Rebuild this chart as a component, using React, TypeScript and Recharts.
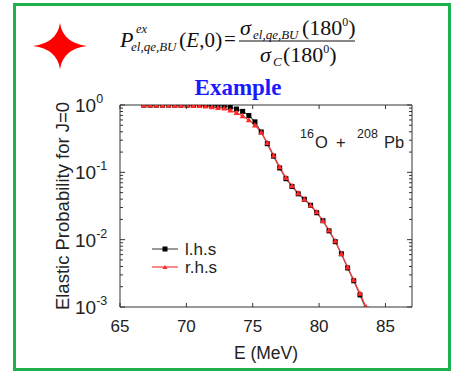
import React from "react";
import {
  LineChart,
  Line,
  XAxis,
  YAxis,
  Legend,
  ReferenceLine,
} from "recharts";

// energies (MeV)
const E_MEV = [
  66.8, 67.27, 67.73, 68.2, 68.66, 69.13, 69.59, 70.06, 70.52, 70.99, 71.45,
  71.92, 72.38, 72.85, 73.31, 73.78, 74.24, 74.71, 75.17, 75.64, 76.1, 76.57,
  77.03, 77.5, 77.96, 78.43, 78.89, 79.36, 79.82, 80.29, 80.75, 81.22, 81.68,
  82.15, 82.61, 83.08, 83.54,
];

// l.h.s (black squares)
const LHS = [
  0.995, 0.995, 0.995, 0.995, 0.995, 0.994, 0.994, 0.993, 0.993, 0.992, 0.99,
  0.988, 0.985, 0.966, 0.933, 0.871, 0.805, 0.698, 0.562, 0.398, 0.266, 0.174,
  0.116, 0.0804, 0.0617, 0.0479, 0.0398, 0.0324, 0.0251, 0.0191, 0.0135,
  0.00933, 0.00617, 0.0038, 0.00245, 0.00151, 0.00093,
];

// r.h.s (red triangles)
const RHS = [
  0.99, 0.99, 0.99, 0.99, 0.987, 0.985, 0.982, 0.98, 0.977, 0.972, 0.955,
  0.933, 0.912, 0.891, 0.832, 0.767, 0.684, 0.596, 0.501, 0.389, 0.275, 0.178,
  0.12, 0.0832, 0.0631, 0.049, 0.0398, 0.0324, 0.0257, 0.0191, 0.0138,
  0.00955, 0.00617, 0.00389, 0.00251, 0.00158, 0.001,
];

const X_DOMAIN = [65, 87];
const X_TICKS = [65, 70, 75, 80, 85];
const Y_DOMAIN = [0.001, 1];
const Y_MAJOR = [1, 0.1, 0.01, 0.001];
const Y_EXP = ["0", "-1", "-2", "-3"];
const Y_MINOR = [
  0.002, 0.003, 0.004, 0.005, 0.006, 0.007, 0.008, 0.009,
  0.02, 0.03, 0.04, 0.05, 0.06, 0.07, 0.08, 0.09,
  0.2, 0.3, 0.4, 0.5, 0.6, 0.7, 0.8, 0.9,
];

const data = E_MEV.map((e, i) => ({ E: e, lhs: LHS[i], rhs: RHS[i] }));

// plot frame (px)
const PL = 120;
const PR = 412;
const PT = 105;
const PB = 307;

const FONT = "'Liberation Sans', Arial, sans-serif";
const SERIF = "'Liberation Serif', 'Times New Roman', serif";
const AXIS = "#333";
const TXT = "#222";

const XTick = (props: any) => {
  const { x, payload } = props;
  return (
    <g>
      <line x1={x} x2={x} y1={PB} y2={PB - 4} stroke={AXIS} />
      <line x1={x} x2={x} y1={PT} y2={PT + 4} stroke={AXIS} />
      <text x={x} y={PB + 25} textAnchor="middle" fontSize={17} fill={TXT} fontFamily={FONT}>
        {payload.value}
      </text>
    </g>
  );
};

const YTick = (props: any) => {
  const { y, payload } = props;
  const k = Y_MAJOR.indexOf(payload.value);
  const len = k >= 0 ? 5 : 3;
  return (
    <g>
      <line x1={PL} x2={PL + len} y1={y} y2={y} stroke={AXIS} />
      <line x1={PR} x2={PR - len} y1={y} y2={y} stroke={AXIS} />
      {k >= 0 && (
        <text x={75} y={y + 7} fontSize={19} fill={TXT} fontFamily={FONT}>
          10
          <tspan dy={-9} fontSize={12.5}>{Y_EXP[k]}</tspan>
        </text>
      )}
    </g>
  );
};

const squareDot = (p: any) => (
  <rect key={"s" + p.index} x={p.cx - 2.5} y={p.cy - 2.5} width={5} height={5} fill="#000" />
);

const triDot = (p: any) => (
  <path
    key={"t" + p.index}
    d={`M${p.cx},${p.cy - 3} L${p.cx + 3},${p.cy + 2.2} L${p.cx - 3},${p.cy + 2.2} Z`}
    fill="#ff2a2a"
  />
);

const renderLegend = () => (
  <svg width={90} height={40}>
    <line x1={2} x2={28} y1={11} y2={11} stroke="#555" strokeWidth={1.2} />
    <rect x={12.5} y={8.5} width={5} height={5} fill="#000" />
    <text x={35} y={17} fontSize={17} fill={TXT} fontFamily={FONT}>l.h.s</text>
    <line x1={2} x2={28} y1={29} y2={29} stroke="#ff3b3b" strokeWidth={1.2} />
    <path d="M15,27 L17.5,31 L12.5,31 Z" fill="#ff2a2a" />
    <text x={35} y={35} fontSize={17} fill={TXT} fontFamily={FONT}>r.h.s</text>
  </svg>
);

export default function App() {
  return (
    <div style={{ position: "absolute", left: 0, top: 0, width: 452, height: 371, background: "#fff" }}>
      <LineChart
        width={452}
        height={371}
        data={data}
        margin={{ top: PT, right: 452 - PR, bottom: 8, left: 4 }}
        style={{ fontFamily: FONT }}
      >
        <XAxis
          type="number"
          dataKey="E"
          domain={X_DOMAIN}
          ticks={X_TICKS}
          interval={0}
          allowDataOverflow
          height={56}
          tickLine={false}
          tick={<XTick />}
          axisLine={{ stroke: AXIS }}
          label={{ value: "E (MeV)", position: "insideBottom", offset: 4, fontSize: 17.5, fill: TXT }}
        />
        <YAxis
          type="number"
          scale="log"
          domain={Y_DOMAIN}
          ticks={[...Y_MAJOR, ...Y_MINOR]}
          interval={0}
          allowDataOverflow
          width={116}
          tickLine={false}
          tick={<YTick />}
          axisLine={{ stroke: AXIS }}
          label={{ value: "Elastic Probability for J=0", angle: -90, position: "center", fontSize: 18.5, fill: TXT }}
        />
        <ReferenceLine y={1} stroke={AXIS} />
        <ReferenceLine x={87} stroke={AXIS} />
        <Legend
          layout="vertical"
          align="center"
          verticalAlign="middle"
          content={renderLegend}
          wrapperStyle={{ left: 150, top: 238, width: 90, height: 40 }}
        />
        <Line
          dataKey="lhs"
          name="l.h.s"
          stroke="#555"
          strokeWidth={1.2}
          dot={squareDot}
          activeDot={false}
          isAnimationActive={false}
        />
        <Line
          dataKey="rhs"
          name="r.h.s"
          stroke="#ff3b3b"
          strokeWidth={1.2}
          dot={triDot}
          activeDot={false}
          isAnimationActive={false}
        />
      </LineChart>

      <svg
        width={452}
        height={371}
        style={{ position: "absolute", left: 0, top: 0, pointerEvents: "none" }}
      >
        <rect x={14.5} y={4.5} width={435} height={365} fill="none" stroke="#1fb14f" strokeWidth={3} />
        <path d="M60,23 Q63,43 87,46 Q63,49 60,69 Q57,49 33,46 Q57,43 60,23 Z" fill="#ff0000" />

        <g fontFamily={SERIF} fill="#111">
          <text x={120} y={47} fontSize={22} fontStyle="italic">P</text>
          <text x={136} y={33} fontSize={12.5} fontStyle="italic">ex</text>
          <text x={131} y={51} fontSize={13} fontStyle="italic">el,qe,BU</text>
          <text x={179} y={47} fontSize={22}>
            (<tspan fontStyle="italic" fontSize={21}>E</tspan>
            <tspan fontSize={21}>,0</tspan>)
          </text>
          <text x={224} y={46} fontSize={21}>=</text>

          <text x={240} y={35} fontSize={22} fontStyle="italic">σ</text>
          <text x={253} y={39} fontSize={13} fontStyle="italic">el,qe,BU</text>
          <text x={302} y={35} fontSize={22}>
            (180<tspan dy={-9} fontSize={12}>0</tspan>
            <tspan dy={9}>)</tspan>
          </text>
          <line x1={239} x2={355} y1={41} y2={41} stroke="#111" strokeWidth={1.2} />
          <text x={260} y={62} fontSize={22} fontStyle="italic">σ</text>
          <text x={273} y={66} fontSize={13} fontStyle="italic">C</text>
          <text x={283} y={62} fontSize={22}>
            (180<tspan dy={-9} fontSize={12}>0</tspan>
            <tspan dy={9}>)</tspan>
          </text>
        </g>

        <text x={238} y={95} textAnchor="middle" fontFamily={SERIF} fontWeight="bold" fontSize={23} fill="#1a1aff">
          Example
        </text>

        <g fontFamily={FONT} fill={TXT}>
          <text x={300} y={138} fontSize={12.5}>16</text>
          <text x={315} y={148} fontSize={16.5}>O</text>
          <text x={336} y={148} fontSize={16.5}>+</text>
          <text x={357} y={138} fontSize={12.5}>208</text>
          <text x={384} y={148} fontSize={16.5}>Pb</text>
        </g>
      </svg>
    </div>
  );
}
